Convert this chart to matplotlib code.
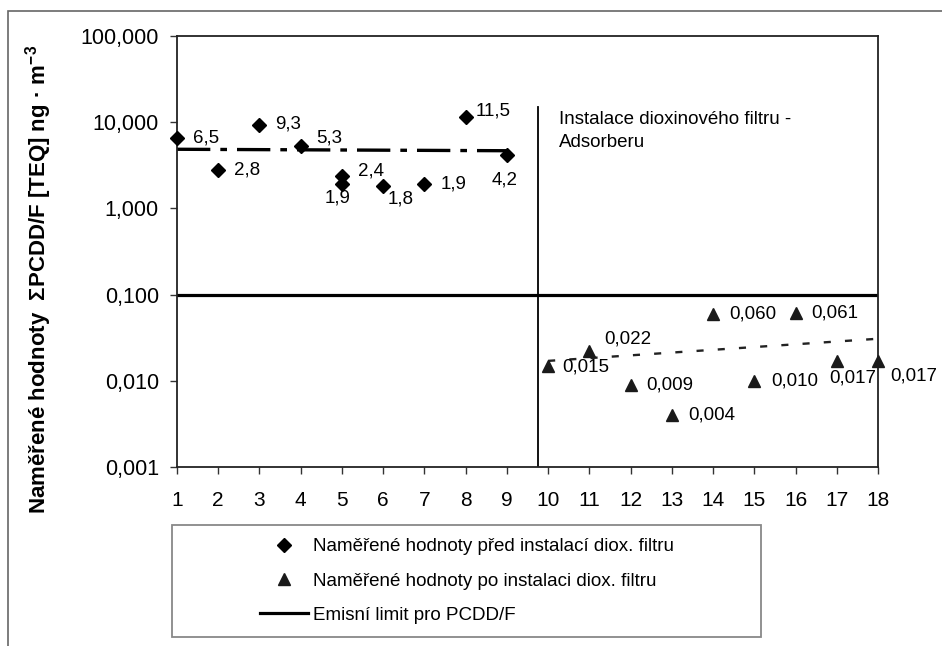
import matplotlib
matplotlib.use("Agg")
import matplotlib.pyplot as plt
from matplotlib.lines import Line2D
from matplotlib.patches import Rectangle
import numpy as np

plt.rcParams['font.family'] = ['Liberation Sans', 'DejaVu Sans']
plt.rcParams['mathtext.fontset'] = 'custom'
plt.rcParams['mathtext.rm'] = 'Liberation Sans'
plt.rcParams['mathtext.bf'] = 'Liberation Sans:bold'
plt.rcParams['mathtext.it'] = 'Liberation Sans:italic'

# ---------------- data ----------------
before_x = [1, 2, 3, 4, 5, 5, 6, 7, 8, 9]
before_y = [6.5, 2.8, 9.3, 5.3, 2.4, 1.9, 1.8, 1.9, 11.5, 4.2]
after_x = [10, 11, 12, 13, 14, 15, 16, 17, 18]
after_y = [0.015, 0.022, 0.009, 0.004, 0.060, 0.010, 0.061, 0.017, 0.017]
emission_limit = 0.1
filter_install_x = 9.76
filter_line_top = 15.0
x_ticks = list(range(1, 19))
y_ticks = [0.001, 0.01, 0.1, 1, 10, 100]
y_tick_labels = ["0,001", "0,010", "0,100", "1,000", "10,000", "100,000"]
legend_labels = ["Naměřené hodnoty před instalací diox. filtru",
                 "Naměřené hodnoty po instalaci diox. filtru",
                 "Emisní limit pro PCDD/F"]
annotation_text = "Instalace dioxinového filtru -\nAdsorberu"

# label placement (offset points, ha, va)
before_lbl_pos = [(11.5, 0, 'left', 'center'), (11.5, 0, 'left', 'center'),
                  (11, 1, 'left', 'center'), (11.5, 6, 'left', 'center'),
                  (11.5, 3.5, 'left', 'center'), (-3.5, -9.5, 'center', 'center'),
                  (3, -9, 'left', 'center'), (12, 0, 'left', 'center'),
                  (7, 4.5, 'left', 'center'), (-1.5, -18, 'center', 'center')]
after_lbl_pos = [(10, -1, 'left', 'center'), (11, 8.5, 'left', 'center'),
                 (11.5, 0, 'left', 'center'), (11.5, 0, 'left', 'center'),
                 (11.5, 0, 'left', 'center'), (12, 0, 'left', 'center'),
                 (11.5, 0, 'left', 'center'), (11.5, -12, 'center', 'center'),
                 (8.5, -11, 'left', 'center')]

LBL_FS = 13.5

fig = plt.figure(figsize=(9.42, 6.46), dpi=100)
ax = fig.add_axes([177/942, 1-467/646, (878-177)/942, (467-36)/646])

ax.set_yscale('log')
ax.set_xlim(1, 18)
ax.set_ylim(0.001, 100)

# emission limit
ax.axhline(emission_limit, color='black', lw=2.3, zorder=2)
# filter install line
ax.plot([filter_install_x, filter_install_x], [0.001, filter_line_top], color='black', lw=1.3, zorder=2)

# trend lines (linear least squares, as in the original spreadsheet)
bx = np.array(before_x, float); by = np.array(before_y, float)
k1, q1 = np.polyfit(bx, by, 1)
tx1 = np.array([min(before_x), max(before_x)])
ax.plot(tx1, k1*tx1 + q1, color='black', lw=2.4, linestyle=(0, (10, 3, 2, 3)), zorder=2)
axx = np.array(after_x, float); ayy = np.array(after_y, float)
k2, q2 = np.polyfit(axx, ayy, 1)
tx2 = np.array([min(after_x), max(after_x)])
ax.plot(tx2, k2*tx2 + q2, color='#222222', lw=1.7, linestyle=(0, (3, 6)), zorder=2)

# markers
ax.plot(before_x, before_y, linestyle='none', marker='D', ms=7, color='black', zorder=3, clip_on=False)
ax.plot(after_x, after_y, linestyle='none', marker='^', ms=9, color='#1a1a1a', zorder=3, clip_on=False)

# data labels
for x, y, (dx, dy, ha, va) in zip(before_x, before_y, before_lbl_pos):
    ax.annotate(f"{y:.1f}".replace('.', ','), (x, y), xytext=(dx, dy), textcoords='offset points',
                ha=ha, va=va, fontsize=LBL_FS, annotation_clip=False)
for x, y, (dx, dy, ha, va) in zip(after_x, after_y, after_lbl_pos):
    ax.annotate(f"{y:.3f}".replace('.', ','), (x, y), xytext=(dx, dy), textcoords='offset points',
                ha=ha, va=va, fontsize=LBL_FS, annotation_clip=False)

ax.text(10.26, 13.5, annotation_text, fontsize=13.5, ha='left', va='top', linespacing=1.45)

# axes styling
ax.set_xticks(x_ticks)
ax.set_xticklabels([str(t) for t in x_ticks])
ax.set_yticks(y_ticks)
ax.set_yticklabels(y_tick_labels)
ax.yaxis.set_minor_locator(matplotlib.ticker.NullLocator())
ax.tick_params(axis='both', direction='out', length=5, width=1, color='#333333')
ax.tick_params(axis='x', pad=12, labelsize=15)
ax.tick_params(axis='y', pad=8, labelsize=15.5)
for s in ax.spines.values():
    s.set_linewidth(1.3)
    s.set_color('#222222')

fig.text(39/942, 1-279/646, r"Naměřené hodnoty  $\mathbf{\Sigma}$PCDD/F [TEQ] ng · m$^{\mathbf{-3}}$",
         rotation=90, ha='center', va='center', fontsize=16, fontweight='bold')

# legend
handles = [Line2D([], [], linestyle='none', marker='D', ms=7, color='black'),
           Line2D([], [], linestyle='none', marker='^', ms=9, color='#1a1a1a'),
           Line2D([], [], color='black', lw=2.3)]
fig.legend(handles, legend_labels, loc='center', bbox_to_anchor=((172+761)/2/942, 1-(525+637)/2/646),
           frameon=False, fontsize=13.5, handlelength=2.56, handletextpad=0.27, labelspacing=0.92)
fig.patches.append(Rectangle((172/942, 1-637/646), (761-172)/942, (637-525)/646,
                             transform=fig.transFigure, fill=False, edgecolor='#888888', lw=1.3))
# outer frame
fig.patches.append(Rectangle((8/942, -0.05), 1.2, 1-11/646+0.05,
                             transform=fig.transFigure, fill=False, edgecolor='#666666', lw=1.2))

fig.savefig('out.png', dpi=100)
